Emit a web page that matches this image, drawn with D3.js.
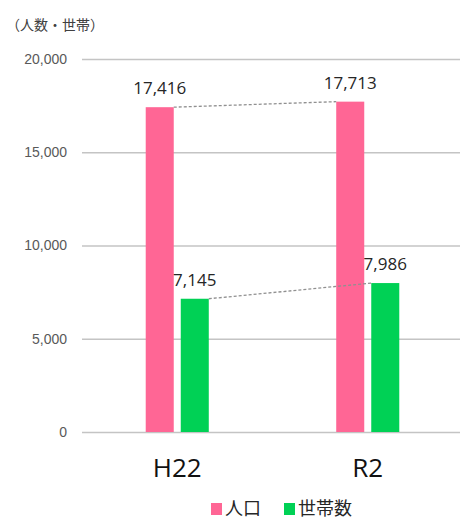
<!DOCTYPE html>
<html>
<head>
<meta charset="utf-8">
<script src="https://cdn.jsdelivr.net/npm/d3@7"></script>
<style>
  body { margin: 0; background: #fff; }
  svg { display: block; font-family: "Open Sans", "Noto Sans CJK JP", sans-serif; }
</style>
</head>
<body>
<svg id="chart" width="460" height="520"></svg>
<script>
// data
const years = ["H22", "R2"];
const seriesNames = ["人口", "世帯数"];
const population = [17416, 17713];
const households = [7145, 7986];
const yTicks = [0, 5000, 10000, 15000, 20000];
const colors = ["#ff6695", "#00d155"];

const svg = d3.select('#chart');
const plotLeft = 82, plotRight = 463, plotTop = 59, plotBottom = 432;

const x0 = d3.scaleBand()
  .domain(years)
  .range([plotLeft, plotRight])
  .paddingInner(0.669)
  .paddingOuter(0.3345);

const x1 = d3.scaleBand()
  .domain(seriesNames)
  .range([0, x0.bandwidth()])
  .paddingInner(0.2);

const y = d3.scaleLinear()
  .domain([0, 20000])
  .range([plotBottom, plotTop]);

// gridlines + tick labels
const yAxis = svg.append('g')
  .attr('transform', `translate(${plotLeft},0)`)
  .call(d3.axisLeft(y).tickValues(yTicks).tickFormat(d3.format(',')).tickSize(-(460 - plotLeft)).tickPadding(15));
yAxis.select('.domain').remove();
yAxis.selectAll('.tick line').attr('stroke', '#c4c4c4').attr('stroke-width', 1.3);
yAxis.selectAll('.tick text')
  .attr('fill', '#595959')
  .attr('font-size', '14px');

// y title
svg.append('text')
  .attr('x', 6)
  .attr('y', 30)
  .attr('font-family', '"Noto Sans CJK JP", sans-serif')
  .attr('font-size', '14px')
  .attr('fill', '#404040')
  .text('（人数・世帯）');

const series = [population, households];

series.forEach((vals, si) => {
  const name = seriesNames[si];
  // bars
  svg.selectAll(`rect.s${si}`)
    .data(years)
    .enter()
    .append('rect')
    .attr('class', `s${si}`)
    .attr('x', d => x0(d) + x1(name))
    .attr('y', (d, i) => y(vals[i]))
    .attr('width', x1.bandwidth())
    .attr('height', (d, i) => y(0) - y(vals[i]))
    .attr('fill', colors[si]);

  // series line between tops
  svg.append('line')
    .attr('x1', x0(years[0]) + x1(name) + x1.bandwidth())
    .attr('y1', y(vals[0]))
    .attr('x2', x0(years[1]) + x1(name))
    .attr('y2', y(vals[1]))
    .attr('stroke', '#909090')
    .attr('stroke-width', 1.3)
    .attr('stroke-dasharray', '3,2');

  // value labels
  svg.selectAll(`text.v${si}`)
    .data(years)
    .enter()
    .append('text')
    .attr('class', `v${si}`)
    .attr('x', d => x0(d) + x1(name) + x1.bandwidth() / 2)
    .attr('y', (d, i) => y(vals[i]) - 13)
    .attr('text-anchor', 'middle')
    .attr('font-size', '17px')
    .attr('fill', '#262626')
    .text((d, i) => d3.format(',')(vals[i]));
});

// category labels
svg.selectAll('text.cat')
  .data(years)
  .enter()
  .append('text')
  .attr('class', 'cat')
  .attr('x', d => x0(d) + x0.bandwidth() / 2)
  .attr('y', 477)
  .attr('text-anchor', 'middle')
  .attr('font-size', '26px')
  .attr('fill', '#111')
  .text(d => d);

// legend
const legend = svg.append('g').attr('font-family', '"Noto Sans CJK JP", sans-serif');
const legendX = [211, 284];
seriesNames.forEach((name, i) => {
  legend.append('rect')
    .attr('x', legendX[i])
    .attr('y', 503)
    .attr('width', 11)
    .attr('height', 12)
    .attr('fill', colors[i]);
  legend.append('text')
    .attr('x', legendX[i] + 14)
    .attr('y', 515)
    .attr('font-size', '18px')
    .attr('fill', '#262626')
    .text(name);
});
</script>
</body>
</html>
